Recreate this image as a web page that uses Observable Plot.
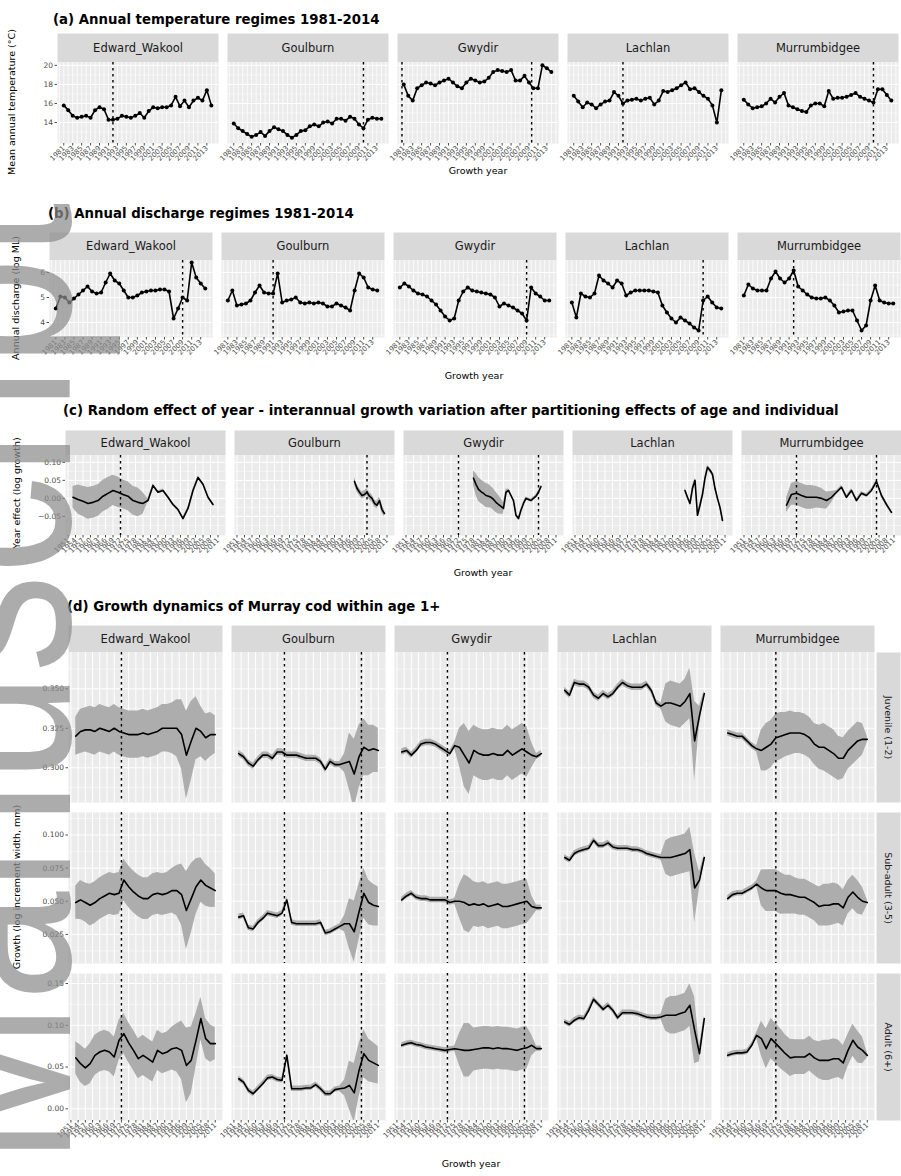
<!DOCTYPE html>
<html><head><meta charset="utf-8">
<script src="https://cdn.jsdelivr.net/npm/d3@7"></script>
<script src="https://cdn.jsdelivr.net/npm/@observablehq/plot@0.6"></script>
<style>
body{margin:0;background:#fff;font-family:"DejaVu Sans",Arial,sans-serif;}
#page{position:relative;width:901px;height:1176px;overflow:hidden;background:#fff;}
.title{font-weight:bold;font-size:13.3px;line-height:13px;color:#000;white-space:nowrap;}
.xlab{font-size:9.5px;line-height:10px;color:#000;text-align:center;width:200px;white-space:nowrap;}
.ylab{font-size:9.5px;line-height:10px;color:#000;white-space:nowrap;transform:translate(-50%,-50%) rotate(-90deg);}
#wm{position:absolute;left:-133px;top:1165px;font-size:240px;line-height:1;font-family:"Liberation Sans",Arial,sans-serif;color:rgba(140,140,140,0.72);transform-origin:0 0;transform:rotate(-90deg) scale(0.82,1);white-space:nowrap;pointer-events:none;}
</style></head>
<body><div id="page"></div>
<script>
const FONT = "'DejaVu Sans', Arial, sans-serif";
const rivers = ["Edward_Wakool","Goulburn","Gwydir","Lachlan","Murrumbidgee"];

// ---------- (a) and (b): annual regimes 1981-2014 ----------
const yearsAB = [1981,1982,1983,1984,1985,1986,1987,1988,1989,1990,1991,1992,1993,1994,1995,1996,1997,1998,1999,2000,2001,2002,2003,2004,2005,2006,2007,2008,2009,2010,2011,2012,2013,2014];
const ticksAB = [1981,1983,1985,1987,1989,1991,1993,1995,1997,1999,2001,2003,2005,2007,2009,2011,2013];

const tempEdward = [15.8,15.3,14.7,14.5,14.6,14.7,14.5,15.3,15.6,15.4,14.3,14.3,14.4,14.7,14.6,14.5,14.7,15.0,14.5,15.2,15.6,15.5,15.6,15.6,15.8,16.7,15.7,16.3,15.6,16.3,16.6,16.3,17.4,15.8];
const tempGoulburn = [13.9,13.4,13.1,12.8,12.5,12.7,13.0,12.6,13.1,13.5,13.3,13.1,12.7,12.4,12.7,13.1,13.2,13.6,13.8,13.6,14.0,14.1,13.9,14.4,14.4,14.2,14.6,14.4,13.8,13.4,14.3,14.5,14.4,14.4];
const tempGwydir = [18.0,16.8,16.3,17.6,17.9,18.2,18.1,17.9,18.2,18.4,18.6,18.2,17.8,17.6,18.2,18.6,18.4,18.2,18.3,18.7,19.3,19.5,19.4,19.3,19.5,18.4,18.4,18.9,18.2,17.6,17.6,20.0,19.7,19.3];
const tempLachlan = [16.8,16.2,15.6,16.1,15.9,15.5,15.9,16.2,16.3,17.2,16.8,16.0,16.3,16.4,16.5,16.3,16.5,16.6,15.9,16.3,17.3,17.2,17.4,17.6,17.9,18.2,17.5,17.6,17.2,16.8,16.5,15.8,14.0,17.4];
const tempMurrumbidgee = [16.4,15.9,15.5,15.6,15.7,16.0,16.5,16.1,16.7,17.1,15.8,15.6,15.4,15.2,15.1,15.8,16.0,16.0,15.7,17.3,16.5,16.6,16.6,16.7,16.9,17.1,16.7,16.5,16.3,16.1,17.5,17.5,16.9,16.3];
const tempTicks = [14,16,18,20];
const tempMinor = [13,15,17,19];
const tempVlines = [["Edward_Wakool",1992],["Goulburn",2010],["Gwydir",1980.6],["Gwydir",2009.6],["Lachlan",1992],["Murrumbidgee",2010]];

const dischEdward = [4.56,5.04,5.0,4.8,4.96,5.12,5.28,5.44,5.24,5.16,5.2,5.6,5.96,5.68,5.56,5.28,5.0,5.0,5.08,5.2,5.24,5.28,5.28,5.32,5.32,5.24,4.16,4.56,5.0,4.88,6.4,5.8,5.56,5.36];
const dischGoulburn = [4.88,5.28,4.68,4.72,4.76,4.88,5.2,5.48,5.2,5.16,5.16,5.96,4.8,4.88,4.92,5.0,4.8,4.76,4.8,4.76,4.8,4.76,4.64,4.64,4.76,4.68,4.6,4.48,5.28,5.96,5.8,5.4,5.32,5.28];
const dischGwydir = [5.4,5.56,5.44,5.28,5.16,5.12,5.04,4.88,4.72,4.48,4.24,4.08,4.16,4.88,5.24,5.4,5.28,5.24,5.2,5.16,5.12,5.0,4.64,4.76,4.68,4.6,4.48,4.36,4.08,5.4,5.16,5.04,4.88,4.88];
const dischLachlan = [4.8,4.2,5.16,5.04,5.0,5.16,5.88,5.68,5.56,5.4,5.68,5.56,5.08,5.2,5.28,5.28,5.28,5.28,5.24,5.2,4.68,4.4,4.16,4.0,4.2,4.08,3.96,3.8,3.68,4.88,5.04,4.8,4.6,4.56];
const dischMurrumbidgee = [5.08,5.52,5.36,5.28,5.28,5.28,5.76,6.04,5.76,5.6,5.76,6.08,5.44,5.28,5.12,5.0,4.96,4.96,5.0,4.88,4.68,4.4,4.44,4.48,4.48,4.08,3.68,3.88,4.88,5.48,4.88,4.8,4.76,4.76];
const dischTicks = [4,5,6];
const dischMinor = [3.5,4.5,5.5];
const dischVlines = [["Edward_Wakool",2009],["Goulburn",1991],["Gwydir",2009],["Lachlan",2010],["Murrumbidgee",1992]];

// ---------- (c): random effect of year ----------
const ticksCD = [1951,1954,1957,1960,1963,1966,1969,1972,1975,1978,1981,1984,1987,1990,1993,1996,1999,2002,2005,2008,2011];
const effYearsEdward = [1953,1955,1957,1959,1961,1963,1965,1967,1969,1971,1973,1975,1977,1979,1981,1983,1985,1987,1989,1991,1993,1995,1997,1999,2001,2003,2005,2007,2009];
const effEdward = [0.003,-0.003,-0.008,-0.014,-0.011,-0.006,0.006,0.014,0.022,0.017,0.011,0.006,-0.006,-0.011,-0.014,-0.006,0.036,0.017,0.022,0.003,-0.017,-0.031,-0.056,-0.028,0.022,0.058,0.039,0.003,-0.017];
const effSeEdward = [0.03,0.04,0.042,0.044,0.044,0.044,0.044,0.044,0.042,0.042,0.04,0.04,0.04,0.04,0.03,0.004,0.004,0.004,0.004,0.004,0.004,0.004,0.004,0.004,0.004,0.004,0.004,0.004,0.004];
const effYearsGoulburn = [1998,1999,2000,2001,2002,2003,2004,2005,2006,2007,2008,2009,2010];
const effGoulburn = [0.047,0.028,0.017,0.008,0.011,0.017,0.006,0.000,-0.014,-0.019,-0.006,-0.031,-0.042];
const effSeGoulburn = [0.01,0.01,0.01,0.01,0.01,0.01,0.01,0.01,0.01,0.01,0.01,0.01,0.01];
const effYearsGwydir = [1978,1979,1980,1981,1982,1983,1984,1985,1986,1987,1988,1989,1990,1991,1992,1993,1994,1995,1996,1997,1998,1999,2000,2001,2002,2003,2004,2005];
const effGwydir = [0.056,0.039,0.025,0.019,0.014,0.008,0.006,0.003,-0.003,-0.011,-0.017,-0.022,-0.028,0.017,0.022,0.008,-0.006,-0.047,-0.056,-0.033,-0.014,0.000,-0.003,-0.006,0.000,0.006,0.017,0.033];
const effSeGwydir = [0.02,0.03,0.033,0.033,0.033,0.033,0.033,0.03,0.03,0.028,0.026,0.022,0.016,0.008,0.004,0.004,0.004,0.004,0.004,0.004,0.004,0.004,0.004,0.004,0.004,0.004,0.004,0.004];
const effYearsLachlan = [1995,1996,1997,1998,1999,2000,2001,2002,2003,2004,2005,2006,2007,2008,2009,2010];
const effLachlan = [0.022,0.003,-0.014,0.028,0.050,-0.047,-0.019,0.011,0.056,0.086,0.078,0.067,0.028,0.000,-0.025,-0.061];
const effSeLachlan = [0.006,0.006,0.006,0.006,0.006,0.006,0.006,0.006,0.006,0.006,0.006,0.006,0.006,0.006,0.006,0.006];
const effYearsMurrumbidgee = [1968,1970,1972,1974,1976,1978,1980,1982,1984,1986,1988,1990,1992,1994,1996,1998,2000,2002,2004,2006,2008,2010];
const effMurrumbidgee = [-0.019,0.011,0.014,0.008,0.003,0.003,0.003,0.000,-0.006,0.003,0.017,0.031,0.003,0.022,-0.006,0.014,0.008,0.022,0.047,0.008,-0.017,-0.039];
const effSeMurrumbidgee = [0.02,0.03,0.033,0.033,0.033,0.033,0.03,0.028,0.024,0.016,0.005,0.005,0.005,0.005,0.005,0.005,0.005,0.005,0.005,0.005,0.005,0.005];
const effTicks = [-0.05,0,0.05,0.10];
const effMinor = [-0.075,-0.025,0.025,0.075];
const effVlines = [["Edward_Wakool",1972],["Goulburn",2003],["Gwydir",1972],["Gwydir",2004],["Murrumbidgee",1972],["Murrumbidgee",2004]];

// ---------- (d): growth dynamics ----------
const growthYears = [1953,1955,1957,1959,1961,1963,1965,1967,1969,1971,1973,1975,1977,1979,1981,1983,1985,1987,1989,1991,1993,1995,1997,1999,2001,2003,2005,2007,2009,2011];
const rowLabels = ["Juvenile (1-2)","Sub-adult (3-5)","Adult (6+)"];
const g1Edward = [0.320,0.323,0.324,0.324,0.323,0.325,0.324,0.323,0.325,0.323,0.322,0.321,0.321,0.321,0.322,0.321,0.322,0.323,0.325,0.325,0.325,0.325,0.321,0.308,0.317,0.325,0.323,0.319,0.321,0.321];
const g1Goulburn = [0.309,0.307,0.303,0.301,0.305,0.308,0.308,0.306,0.310,0.310,0.308,0.308,0.308,0.307,0.306,0.306,0.306,0.304,0.299,0.304,0.302,0.302,0.303,0.304,0.296,0.307,0.313,0.311,0.312,0.311];
const g1Gwydir = [0.310,0.311,0.308,0.311,0.315,0.316,0.316,0.315,0.313,0.311,0.309,0.314,0.313,0.308,0.303,0.311,0.309,0.308,0.308,0.309,0.308,0.308,0.311,0.308,0.310,0.312,0.310,0.308,0.307,0.309];
const g1Lachlan = [0.349,0.346,0.354,0.353,0.353,0.351,0.346,0.344,0.347,0.345,0.347,0.351,0.354,0.352,0.351,0.351,0.351,0.353,0.349,0.341,0.339,0.341,0.341,0.340,0.339,0.342,0.347,0.317,0.333,0.347];
const g1Murrumbidgee = [0.322,0.321,0.320,0.320,0.317,0.314,0.312,0.311,0.313,0.315,0.319,0.320,0.321,0.322,0.322,0.322,0.321,0.319,0.315,0.313,0.313,0.311,0.309,0.306,0.306,0.311,0.314,0.317,0.318,0.318];
const g2Edward = [0.049,0.051,0.049,0.047,0.049,0.052,0.054,0.056,0.055,0.056,0.066,0.061,0.057,0.054,0.052,0.052,0.055,0.056,0.055,0.056,0.058,0.058,0.055,0.043,0.052,0.061,0.066,0.062,0.060,0.058];
const g2Goulburn = [0.038,0.039,0.030,0.029,0.034,0.037,0.041,0.040,0.039,0.041,0.051,0.034,0.033,0.033,0.033,0.033,0.033,0.034,0.026,0.027,0.029,0.031,0.033,0.033,0.027,0.042,0.056,0.049,0.047,0.046];
const g2Gwydir = [0.051,0.054,0.056,0.053,0.052,0.052,0.051,0.051,0.051,0.051,0.049,0.050,0.050,0.049,0.047,0.048,0.047,0.048,0.046,0.047,0.048,0.046,0.046,0.047,0.048,0.049,0.050,0.046,0.045,0.045];
const g2Lachlan = [0.083,0.081,0.086,0.088,0.089,0.090,0.096,0.092,0.092,0.094,0.091,0.090,0.090,0.090,0.089,0.089,0.088,0.086,0.085,0.084,0.083,0.083,0.083,0.084,0.085,0.086,0.089,0.060,0.066,0.083];
const g2Murrumbidgee = [0.052,0.055,0.056,0.056,0.058,0.060,0.063,0.060,0.058,0.058,0.058,0.056,0.055,0.055,0.054,0.053,0.053,0.051,0.049,0.046,0.047,0.047,0.048,0.048,0.045,0.053,0.057,0.053,0.050,0.049];
const g3Edward = [0.061,0.054,0.049,0.054,0.064,0.068,0.070,0.068,0.062,0.082,0.090,0.079,0.070,0.060,0.064,0.060,0.056,0.070,0.066,0.068,0.072,0.073,0.070,0.052,0.058,0.082,0.108,0.084,0.078,0.078];
const g3Goulburn = [0.036,0.032,0.022,0.018,0.024,0.030,0.037,0.038,0.035,0.034,0.064,0.024,0.024,0.024,0.025,0.025,0.029,0.024,0.018,0.018,0.023,0.024,0.025,0.028,0.019,0.046,0.066,0.058,0.055,0.052];
const g3Gwydir = [0.076,0.078,0.079,0.077,0.076,0.074,0.073,0.072,0.071,0.070,0.071,0.072,0.071,0.070,0.070,0.071,0.072,0.073,0.073,0.072,0.073,0.072,0.072,0.071,0.070,0.072,0.073,0.076,0.072,0.072];
const g3Lachlan = [0.104,0.101,0.106,0.109,0.108,0.118,0.131,0.125,0.119,0.124,0.118,0.109,0.115,0.115,0.115,0.114,0.112,0.110,0.109,0.109,0.110,0.112,0.112,0.112,0.114,0.116,0.124,0.094,0.066,0.108];
const g3Murrumbidgee = [0.064,0.066,0.067,0.067,0.068,0.076,0.088,0.084,0.072,0.084,0.078,0.072,0.066,0.061,0.062,0.062,0.062,0.066,0.061,0.058,0.058,0.058,0.060,0.060,0.055,0.070,0.082,0.074,0.070,0.064];
const ciEdward = [0.012,0.014,0.014,0.015,0.015,0.015,0.015,0.015,0.015,0.015,0.015,0.015,0.015,0.015,0.015,0.015,0.015,0.015,0.015,0.015,0.016,0.018,0.022,0.028,0.025,0.020,0.016,0.015,0.014,0.012];
const ciGoulburn = [0.002,0.002,0.002,0.002,0.002,0.002,0.002,0.002,0.002,0.002,0.002,0.002,0.002,0.002,0.002,0.002,0.002,0.002,0.002,0.002,0.002,0.002,0.006,0.018,0.022,0.020,0.018,0.016,0.015,0.014];
const ciGwydir = [0.002,0.002,0.002,0.002,0.002,0.002,0.002,0.002,0.002,0.002,0.002,0.002,0.012,0.020,0.020,0.016,0.016,0.016,0.016,0.016,0.016,0.016,0.016,0.016,0.016,0.016,0.016,0.008,0.002,0.002];
const ciLachlan = [0.002,0.002,0.002,0.002,0.002,0.002,0.002,0.002,0.002,0.002,0.002,0.002,0.002,0.002,0.002,0.002,0.002,0.002,0.002,0.002,0.002,0.012,0.014,0.014,0.014,0.014,0.016,0.025,0.006,0.002];
const ciMurrumbidgee = [0.002,0.002,0.002,0.002,0.002,0.002,0.002,0.013,0.015,0.015,0.015,0.015,0.014,0.014,0.013,0.013,0.013,0.013,0.013,0.014,0.015,0.015,0.015,0.014,0.013,0.012,0.012,0.012,0.010,0.002];
const ciRowScale = [1, 1.05, 1.6];
const row1Ticks = [0.300,0.325,0.350], row1Minor = [0.2875,0.3125,0.3375,0.3625];
const row2Ticks = [0.025,0.050,0.075,0.100], row2Minor = [0.0125,0.0375,0.0625,0.0875,0.1125];
const row3Ticks = [0,0.05,0.10,0.15], row3Minor = [0.025,0.075,0.125];
const growthVlines = [["Edward_Wakool",1972],["Goulburn",1972],["Goulburn",2004],["Gwydir",1972],["Gwydir",2004],["Murrumbidgee",1973]];

// ---------- build tables ----------
function rows(river, years, values, se, k = 1) {
  return values.map((v, i) => ({river, year: years[i], value: v, se: se ? se[i] * k : 0}));
}
const tempData = [
  ...rows("Edward_Wakool", yearsAB, tempEdward), ...rows("Goulburn", yearsAB, tempGoulburn),
  ...rows("Gwydir", yearsAB, tempGwydir), ...rows("Lachlan", yearsAB, tempLachlan),
  ...rows("Murrumbidgee", yearsAB, tempMurrumbidgee)];
const dischData = [
  ...rows("Edward_Wakool", yearsAB, dischEdward), ...rows("Goulburn", yearsAB, dischGoulburn),
  ...rows("Gwydir", yearsAB, dischGwydir), ...rows("Lachlan", yearsAB, dischLachlan),
  ...rows("Murrumbidgee", yearsAB, dischMurrumbidgee)];
const effData = [
  ...rows("Edward_Wakool", effYearsEdward, effEdward, effSeEdward),
  ...rows("Goulburn", effYearsGoulburn, effGoulburn, effSeGoulburn),
  ...rows("Gwydir", effYearsGwydir, effGwydir, effSeGwydir),
  ...rows("Lachlan", effYearsLachlan, effLachlan, effSeLachlan),
  ...rows("Murrumbidgee", effYearsMurrumbidgee, effMurrumbidgee, effSeMurrumbidgee)];
const gRows = [
  [g1Edward, g1Goulburn, g1Gwydir, g1Lachlan, g1Murrumbidgee],
  [g2Edward, g2Goulburn, g2Gwydir, g2Lachlan, g2Murrumbidgee],
  [g3Edward, g3Goulburn, g3Gwydir, g3Lachlan, g3Murrumbidgee]];
const cis = [ciEdward, ciGoulburn, ciGwydir, ciLachlan, ciMurrumbidgee];
const growthData = gRows.map((series, r) => series.flatMap((vals, j) => rows(rivers[j], growthYears, vals, cis[j], ciRowScale[r])));

// ---------- drawing helpers ----------
const page = document.getElementById("page");
function place(el, left, top) { el.style.position = "absolute"; el.style.left = left + "px"; el.style.top = top + "px"; page.appendChild(el); return el; }
function textDiv(cls, txt, left, top) { const d = document.createElement("div"); d.className = cls; d.textContent = txt; return place(d, left, top); }

function strip(width, marginLeft, padIn, height) {
  return Plot.plot({
    width, height, marginLeft, marginRight: 0, marginTop: 0, marginBottom: 0,
    style: {fontFamily: FONT, background: "transparent", overflow: "visible"},
    fx: {domain: rivers, paddingInner: padIn, paddingOuter: 0, axis: null},
    marks: [
      Plot.frame({fill: "#d9d9d9", stroke: "none"}),
      Plot.text(rivers, {fx: d => d, text: d => d, frameAnchor: "middle", fontSize: 11.5, fill: "#1a1a1a"})
    ]
  });
}
function sideStrip(label, height) {
  return Plot.plot({
    width: 24, height, margin: 0,
    style: {fontFamily: FONT, background: "transparent", overflow: "visible"},
    marks: [
      Plot.frame({fill: "#d9d9d9", stroke: "none"}),
      Plot.text([label], {text: d => d, frameAnchor: "middle", rotate: 90, fontSize: 9.5, fill: "#1a1a1a"})
    ]
  });
}
function panel(o) {
  const marks = [
    Plot.frame({fill: "#ebebeb", stroke: "none"}),
    Plot.ruleY(o.yMinor, {stroke: "white", strokeWidth: 0.5}),
    Plot.ruleY(o.yTicks, {stroke: "white", strokeWidth: 1}),
    Plot.ruleX(o.xGrid, {stroke: "white", strokeWidth: o.gridW || 0.8})
  ];
  if (o.band) marks.push(Plot.areaY(o.data, {x: "year", y1: d => d.value - d.se, y2: d => d.value + d.se, fx: "river", fill: "#adadad", clip: true}));
  marks.push(Plot.ruleX(o.vlines, {x: d => d[1], fx: d => d[0], stroke: "black", strokeWidth: 1.4, strokeDasharray: "2.5,3.5"}));
  marks.push(Plot.line(o.data, {x: "year", y: "value", fx: "river", stroke: "black", strokeWidth: 1.6, clip: true}));
  if (o.dots) marks.push(Plot.dot(o.data, {x: "year", y: "value", fx: "river", fill: "black", r: 2, clip: true}));
  if (o.showX) marks.push(Plot.axisX({ticks: o.xTicks, tickFormat: d => String(d), tickRotate: -45, tickSize: 2.5, tickPadding: 1, label: null, fontSize: 7}));
  marks.push(Plot.axisY({ticks: o.yTicks, tickFormat: o.yFormat, tickSize: 2.5, tickPadding: 2, fontSize: 7.5, label: null}));
  return Plot.plot({
    width: o.width, height: o.height, marginLeft: o.marginLeft, marginRight: 0, marginTop: 0, marginBottom: o.marginBottom,
    style: {fontFamily: FONT, fontSize: "10px", color: "#4d4d4d", background: "transparent", overflow: "visible"},
    fx: {domain: rivers, paddingInner: o.padIn, paddingOuter: 0, axis: null},
    x: {domain: o.xDomain, ...(o.showX ? {} : {axis: null})},
    y: {domain: o.yDomain},
    marks
  });
}
const gridAB = d3.range(1980, 2016);
const gridCD = ticksCD;
const f2 = d3.format(".2f"), f3 = d3.format(".3f");

// (a)
textDiv("title", "(a) Annual temperature regimes 1981-2014", 53, 13);
place(strip(901, 55, 0.0523, 29), 0, 33);
place(panel({width: 901, height: 109, marginLeft: 55, marginBottom: 28, padIn: 0.0523, data: tempData, dots: true,
  xDomain: [1979.6, 2015.6], xTicks: ticksAB, xGrid: gridAB, showX: true, yDomain: [11.8, 20.3], yTicks: tempTicks,
  yMinor: tempMinor, yFormat: d => String(d), vlines: tempVlines}), 0, 62);
textDiv("ylab", "Mean annual temperature (°C)", 12, 102);
textDiv("xlab", "Growth year", 478 - 100, 166);

// (b)
textDiv("title", "(b) Annual discharge regimes 1981-2014", 48, 207);
place(strip(901, 48, 0.0523, 28), 0, 232);
place(panel({width: 901, height: 105, marginLeft: 48, marginBottom: 28, padIn: 0.0523, data: dischData, dots: true,
  xDomain: [1979.6, 2015.6], xTicks: ticksAB, xGrid: gridAB, showX: true, yDomain: [3.4, 6.48], yTicks: dischTicks,
  yMinor: dischMinor, yFormat: d => String(d), vlines: dischVlines}), 0, 260);
textDiv("ylab", "Annual discharge (log ML)", 16, 298);
textDiv("xlab", "Growth year", 474 - 100, 371);

// (c)
textDiv("title", "(c) Random effect of year - interannual growth variation after partitioning effects of age and individual", 63, 404);
place(strip(901, 65, 0.0533, 25), 0, 430);
place(panel({width: 901, height: 108, marginLeft: 65, marginBottom: 28, padIn: 0.0533, data: effData, band: true,
  xDomain: [1950, 2014], xTicks: ticksCD, xGrid: gridCD, gridW: 1, showX: true, yDomain: [-0.103, 0.119], yTicks: effTicks,
  yMinor: effMinor, yFormat: f2, vlines: effVlines}), 0, 455);
textDiv("ylab", "Year effect (log growth)", 17, 493);
textDiv("xlab", "Growth year", 483 - 100, 568);

// (d)
textDiv("title", "(d) Growth dynamics of Murray cod within age 1+", 67, 600);
place(strip(875, 67, 0.058, 27), 0, 625);
const rowSpecs = [
  {top: 652, area: 150, dom: [0.278, 0.373], ticks: row1Ticks, minor: row1Minor, fmt: f3},
  {top: 812, area: 151, dom: [0.003, 0.117], ticks: row2Ticks, minor: row2Minor, fmt: f3},
  {top: 973, area: 147, dom: [-0.014, 0.162], ticks: row3Ticks, minor: row3Minor, fmt: f2}
];
rowSpecs.forEach((s, r) => {
  const last = r === 2;
  place(panel({width: 875, height: s.area + (last ? 30 : 0), marginLeft: 67, marginBottom: last ? 30 : 0, padIn: 0.058,
    data: growthData[r], band: true, xDomain: [1950, 2014], xTicks: ticksCD, xGrid: gridCD, gridW: 1, showX: last,
    yDomain: s.dom, yTicks: s.ticks, yMinor: s.minor, yFormat: s.fmt, vlines: growthVlines}), 0, s.top);
  place(sideStrip(rowLabels[r], s.area), 876, s.top);
});
textDiv("ylab", "Growth (log increment width, mm)", 17, 887);
textDiv("xlab", "Growth year", 471 - 100, 1159);

// watermark
const wm = document.createElement("div");
wm.id = "wm"; wm.textContent = "Manuscript";
page.appendChild(wm);
</script>
</body></html>
